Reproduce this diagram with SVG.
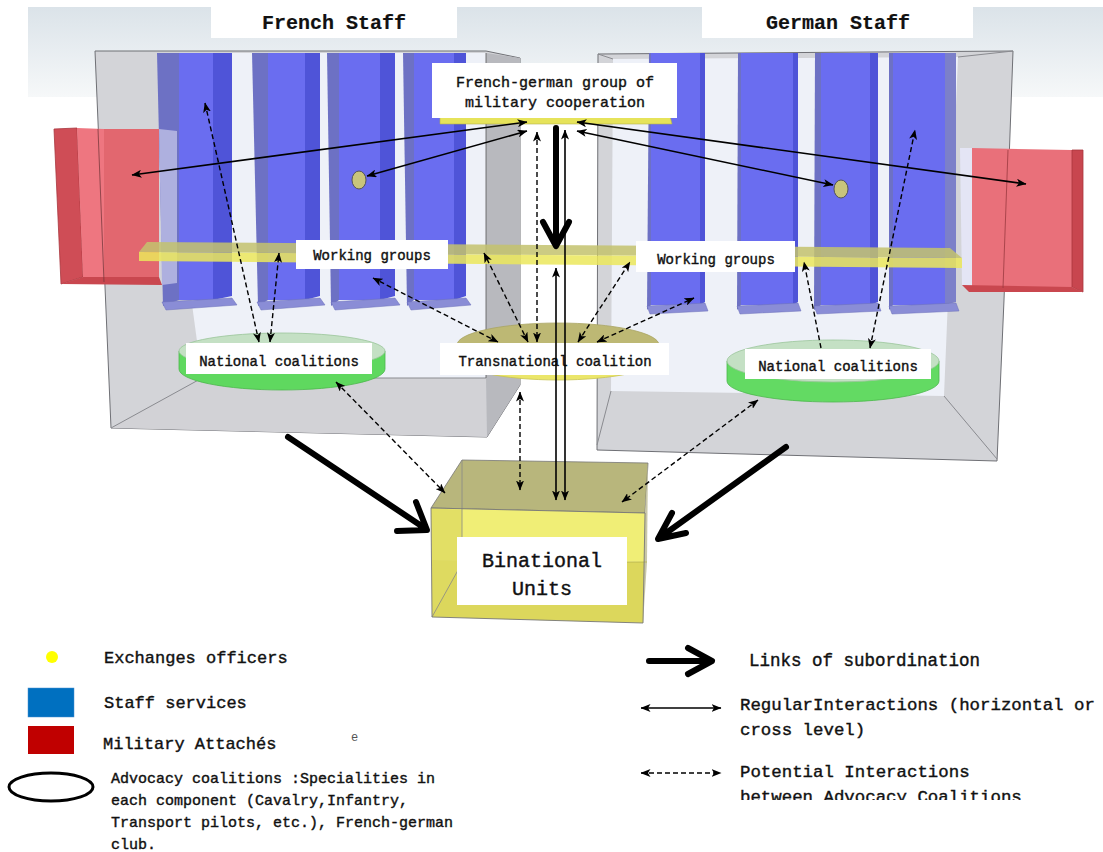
<svg xmlns="http://www.w3.org/2000/svg" width="1103" height="852" viewBox="0 0 1103 852">
<defs>
<linearGradient id="bandG" x1="0" y1="0" x2="0" y2="1"><stop offset="0" stop-color="#dbe3e9"/><stop offset="1" stop-color="#f6f8f9"/></linearGradient>
<marker id="ah" viewBox="0 0 10 8" refX="9.5" refY="4" markerUnits="userSpaceOnUse" markerWidth="10" markerHeight="8" orient="auto-start-reverse"><path d="M0,0 L10,4 L0,8 L2.5,4 Z" fill="#000"/></marker>
<clipPath id="cutLast"><rect x="700" y="780" width="403" height="20"/></clipPath>
<style>
.t{font-family:"Liberation Mono","Courier New",monospace;fill:#111;stroke:#111;stroke-width:0.4}
.b{font-weight:bold;stroke-width:0.2}
.lbl{fill:#fff}
.wall{fill:#d3d4d8;stroke:#6f7075;stroke-width:1}
.back{fill:#eef1f8}
.side{fill:#b8b9be}
.edge{stroke:#8a8b90;stroke-width:1;fill:none}
.cf{fill:#6a6df0}
.cl{fill:#6d71c4}
.cr{fill:#4f54d8}
.cc{fill:#8a8dd6;stroke:#6b6fb8;stroke-width:0.5}
.reg{fill:none;stroke:#000;stroke-width:1.6;marker-start:url(#ah);marker-end:url(#ah)}
.pot{fill:none;stroke:#000;stroke-width:1.4;stroke-dasharray:5 3;marker-start:url(#ah);marker-end:url(#ah)}
.sub{fill:none;stroke:#000;stroke-width:6;stroke-linecap:round;stroke-linejoin:round}
</style>
</defs>

<rect x="28" y="7" width="1075" height="90" fill="url(#bandG)"/>

<g id="french-staff">
  <polygon class="wall" points="95,51 486,51 520,58 520,385 487,437 111,428"/>
  <polygon class="back" points="158,53 486,53 486,378 202,378"/>
  <polygon fill="#d2d2d6" points="202,378 486,378 487,437 111,428"/>
  <polygon class="side" points="486,53 520,58 520,385 487,437 486,378"/>
  <line class="edge" x1="111" y1="428" x2="202" y2="378"/>
  <line class="edge" x1="202" y1="378" x2="486" y2="378"/>
  <line x1="486" y1="53" x2="486" y2="378" stroke="#555" stroke-width="0.8"/>
  <polygon class="cl" points="157,53 179,53 179,300 163,306"/><rect class="cf" x="179" y="53" width="34" height="247"/><polygon class="cr" points="213,53 232,53 232,296 213,300"/><polygon class="cc" points="162,302 232,298 237,305 166,310"/>
  <polygon class="cl" points="252,53 268,53 268,300 258,306"/><rect class="cf" x="268" y="53" width="37" height="247"/><polygon class="cr" points="305,53 320,53 320,296 305,300"/><polygon class="cc" points="257,302 320,298 325,305 261,310"/>
  <polygon class="cl" points="327,53 339,53 339,300 331,306"/><rect class="cf" x="339" y="53" width="41" height="247"/><polygon class="cr" points="380,53 395,53 395,296 380,300"/><polygon class="cc" points="331,302 395,298 400,305 335,310"/>
  <polygon class="cl" points="403,53 414,53 414,300 407,306"/><rect class="cf" x="414" y="53" width="40" height="247"/><polygon class="cr" points="454,53 466,53 466,296 454,300"/><polygon class="cc" points="407,302 466,298 471,305 411,310"/>
  <polygon fill="#cf4d56" stroke="#a8363e" stroke-width="0.8" points="54,129 77,128 83,277 61,284"/>
  <polygon fill="#ee7680" points="77,128 104,129 104,277 83,277"/>
  <polygon fill="#e2676f" points="104,129 159,129 159,277 104,277"/>
  <polygon fill="#c9474f" points="61,284 83,277 159,277 162,285"/>
  <polygon fill="#aeb0df" points="159,129 177,131 177,283 162,285"/>
  <line x1="98" y1="129" x2="104" y2="282" stroke="#7a3a3e" stroke-width="0.8"/>
  <ellipse cx="359" cy="180" rx="7" ry="9" fill="#c8c47c" stroke="#555" stroke-width="1"/>
</g>

<g id="german-staff">
  <polygon class="wall" points="598,54 1013,51 1004,300 997,461 597,450"/>
  <polygon class="back" points="613,59 958,57 944,396 611,391"/>
  <line class="edge" x1="611" y1="391" x2="597" y2="445"/>
  <line class="edge" x1="944" y1="396" x2="997" y2="459"/>
  <line class="edge" x1="958" y1="57" x2="1013" y2="51"/>
  <line class="edge" x1="613" y1="59" x2="598" y2="54"/>
  <polygon class="cl" points="649,53 651,53 651,305 647,310"/><rect class="cf" x="651" y="53" width="49" height="252"/><polygon class="cr" points="700,53 705,53 705,302 700,305"/><polygon class="cc" points="647,306 705,303 708,311 650,314"/>
  <polygon class="cl" points="738,53 741,53 741,305 737,310"/><rect class="cf" x="741" y="53" width="52" height="252"/><polygon class="cr" points="793,53 798,53 798,302 793,305"/><polygon class="cc" points="737,306 798,303 801,311 740,314"/>
  <polygon class="cl" points="815,53 821,53 821,305 814,310"/><rect class="cf" x="821" y="53" width="49" height="252"/><polygon class="cr" points="870,53 878,53 878,302 870,305"/><polygon class="cc" points="814,306 878,303 881,311 817,314"/>
  <polygon class="cl" points="889,53 893,53 893,305 889,310"/><rect class="cf" x="893" y="53" width="52" height="252"/><polygon fill="#7c80c9" points="945,53 956,53 956,302 945,305"/><polygon class="cc" points="889,306 956,303 959,311 892,314"/>
  <polygon fill="#e4e5f5" points="960,148 972,148 972,287 962,285"/>
  <polygon fill="#e9707a" points="972,148 1072,150 1072,287 972,287"/>
  <polygon fill="#c8464f" stroke="#a8363e" stroke-width="0.8" points="1072,150 1083,150 1083,292 1072,287"/>
  <polygon fill="#c9474f" points="962,285 1072,287 1083,292 969,292"/>
  <line x1="1008" y1="150" x2="1003" y2="288" stroke="#9a3a40" stroke-width="0.8"/>
  <ellipse cx="841" cy="189" rx="7" ry="9" fill="#c8c47c" stroke="#555" stroke-width="1"/>
</g>

<g id="working-groups-slab" opacity="0.85">
  <polygon fill="#c4c36e" points="147,242 950,248 962,258 139,252"/>
  <polygon fill="#ece85c" points="139,252 962,258 962,268 139,261"/>
</g>

<g id="fg-group">
  <polygon fill="#e6e35a" stroke="#b5b24a" stroke-width="0.6" points="440,116 670,116 672,124 440,124"/>
  <rect class="lbl" x="432" y="63" width="245" height="55"/>
  <text class="t" x="555" y="87" font-size="15" text-anchor="middle">French-german group of</text>
  <text class="t" x="555" y="107" font-size="15" text-anchor="middle">military cooperation</text>
</g>

<g id="national-left">
  <path d="M179,351 L179,369 A103,21 0 0 0 385,369 L385,351 Z" fill="#5fd85f" stroke="#4cb84c" stroke-width="0.8"/>
  <ellipse cx="282" cy="351" rx="103" ry="18" fill="#c4e0c4" stroke="#9bc59b" stroke-width="0.8"/>
  <rect class="lbl" x="186" y="343" width="186" height="31"/>
  <text class="t" x="279" y="366" font-size="14" text-anchor="middle">National coalitions</text>
</g>

<g id="transnational">
  <path d="M457,345 L457,358 A101,22 0 0 0 659,358 L659,345 Z" fill="#ebe66a" stroke="#c9c44e" stroke-width="0.8"/>
  <ellipse cx="558" cy="345" rx="101" ry="22" fill="#bdb874" stroke="#a9a462" stroke-width="0.8"/>
  <rect class="lbl" x="440" y="343" width="229" height="32"/>
  <text class="t" x="555" y="366" font-size="14" text-anchor="middle">Transnational coalition</text>
</g>

<g id="national-right">
  <path d="M727,361 L727,381 A106,21 0 0 0 939,381 L939,361 Z" fill="#63da63" stroke="#4cb84c" stroke-width="0.8"/>
  <ellipse cx="833" cy="361" rx="106" ry="21" fill="#c4e0c4" stroke="#9bc59b" stroke-width="0.8"/>
  <rect class="lbl" x="745" y="349" width="186" height="30"/>
  <text class="t" x="838" y="371" font-size="14" text-anchor="middle">National coalitions</text>
</g>

<g id="wg-left">
  <rect class="lbl" x="296" y="240" width="152" height="29"/>
  <text class="t" x="372" y="260" font-size="14" text-anchor="middle">Working groups</text>
</g>
<g id="wg-right">
  <rect class="lbl" x="636" y="241" width="159" height="31"/>
  <text class="t" x="716" y="264" font-size="14" text-anchor="middle">Working groups</text>
</g>

<g id="binational">
  <polygon fill="#b8b67c" stroke="#777" stroke-width="0.8" points="462,460 648,463 645,513 431,508"/>
  <polygon fill="#f0ee76" points="431,508 645,513 645,562 432,560"/>
  <polygon fill="#dcd75c" points="432,560 645,562 643,623 432,617"/>
  <polygon fill="#dedb62" opacity="0.8" points="431,508 462,510 462,563 432,617"/>
  <polygon fill="#c9c7a8" points="645,513 648,463 647,562 643,623"/>
  <polyline fill="none" stroke="#888" stroke-width="0.8" points="462,460 462,563 432,617"/>
  <line x1="462" y1="563" x2="647" y2="562" stroke="#b8b450" stroke-width="0.8"/>
  <polygon fill="none" stroke="#777" stroke-width="0.9" points="431,508 645,513 643,623 432,617"/>
  <rect class="lbl" x="457" y="537" width="170" height="68"/>
  <text class="t" x="542" y="567" font-size="20" text-anchor="middle">Binational</text>
  <text class="t" x="542" y="595" font-size="20" text-anchor="middle">Units</text>
</g>

<g id="titles">
  <rect class="lbl" x="211" y="7" width="246" height="31"/>
  <text class="t b" x="334" y="29" font-size="20" text-anchor="middle">French Staff</text>
  <rect class="lbl" x="702" y="7" width="271" height="31"/>
  <text class="t b" x="838" y="29" font-size="20" text-anchor="middle">German Staff</text>
</g>

<g id="connectors">
  <path class="sub" d="M556,128 L556,243 M543,222 L556,246 L569,222"/>
  <path class="sub" d="M288,437 L423,527 M397,531 L427,530 L416,502"/>
  <path class="sub" d="M786,447 L662,536 M686,533 L658,539 L672,513"/>
  <path class="reg" d="M527,122 L132,175"/>
  <path class="reg" d="M527,131 L367,176"/>
  <path class="reg" d="M577,122 L1026,184"/>
  <path class="reg" d="M577,131 L833,185"/>
  <path class="reg" d="M565,130 L565,500"/>
  <path class="reg" d="M556,268 L556,500"/>
  <path class="pot" d="M259,342 L205,103"/>
  <path class="pot" d="M270,342 L279,253"/>
  <path class="pot" d="M498,342 L373,278"/>
  <path class="pot" d="M528,342 L484,253"/>
  <path class="pot" d="M537,132 L537,342"/>
  <path class="pot" d="M578,342 L630,262"/>
  <path class="pot" d="M597,342 L694,298"/>
  <path fill="none" stroke="#000" stroke-width="1.4" stroke-dasharray="5 3" marker-end="url(#ah)" d="M821,348 L804,262"/>
  <path class="pot" d="M870,348 L915,130"/>
  <path class="pot" d="M336,382 L445,493"/>
  <path class="pot" d="M520,392 L520,490"/>
  <path class="pot" d="M758,400 L622,502"/>
</g>

<g id="legend">
  <circle cx="52" cy="657" r="6" fill="#ffff00"/>
  <text class="t" x="104" y="663" font-size="17">Exchanges officers</text>
  <rect x="28" y="688" width="46" height="29" fill="#0070c0" stroke="#4a8fd0" stroke-width="0.5"/>
  <text class="t" x="104" y="708" font-size="17">Staff services</text>
  <rect x="28" y="726" width="46" height="28" fill="#c00000"/>
  <text class="t" x="103" y="749" font-size="17">Military Attachés</text>
  <text x="351" y="741" font-size="12" font-family="Liberation Mono, monospace" fill="#555">e</text>
  <ellipse cx="51" cy="787" rx="42" ry="14" fill="#fff" stroke="#000" stroke-width="3"/>
  <text class="t" x="111" y="783" font-size="15">Advocacy coalitions :Specialities in</text>
  <text class="t" x="111" y="805" font-size="15">each component (Cavalry,Infantry,</text>
  <text class="t" x="111" y="827" font-size="15">Transport pilots, etc.), French-german</text>
  <text class="t" x="111" y="849" font-size="15">club.</text>
  <path class="sub" d="M649,661 L708,661 M688,648 L712,661 L688,674"/>
  <text class="t" x="749" y="666" font-size="17.5">Links of subordination</text>
  <path class="reg" d="M641,708 L721,708"/>
  <text class="t" x="740" y="710" font-size="17.4">RegularInteractions (horizontal or</text>
  <text class="t" x="740" y="735" font-size="17.4">cross level)</text>
  <path class="pot" d="M641,773 L721,773"/>
  <text class="t" x="740" y="777" font-size="17.4">Potential Interactions</text>
  <text class="t" x="740" y="802" font-size="17.4" clip-path="url(#cutLast)">between Advocacy Coalitions</text>
</g>
</svg>
